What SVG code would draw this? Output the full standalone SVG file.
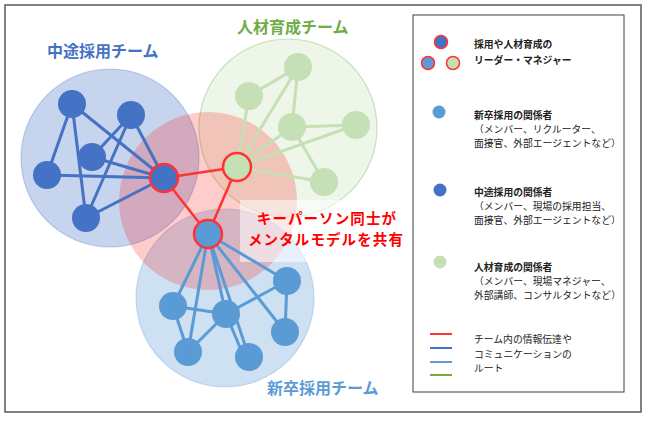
<svg xmlns="http://www.w3.org/2000/svg" width="648" height="421" viewBox="0 0 648 421">
<style>
text{font-family:"Noto Sans CJK JP","Noto Sans",sans-serif;}
.team{font-size:16px;font-weight:bold;}
.lg{font-size:9.8px;fill:#222;}
.b{font-weight:bold;}
.eb{stroke:#4472C4;stroke-width:3;}
.el{stroke:#5B9BD5;stroke-width:3;}
.eg{stroke:#C5E0B4;stroke-width:3;}
.er{stroke:#FF3333;stroke-width:2.5;}
.nb{fill:#4472C4;}
.nl{fill:#5B9BD5;}
.ng{fill:#C5E0B4;}
.lead{stroke:#FF3333;stroke-width:2.5;}
</style>
<rect x="0" y="0" width="648" height="421" fill="#fff"/>
<rect x="5" y="5" width="636" height="407" fill="#fff" stroke="#595959" stroke-width="1.5"/>

<!-- team areas -->
<g id="area-green"><circle cx="288" cy="128" r="89" fill="#C5E0B4" fill-opacity="0.3" stroke="#C5E0B4" stroke-width="1.2"/></g>
<g id="area-blue"><circle cx="110" cy="158" r="89" fill="#4472C4" fill-opacity="0.3" stroke="#4472C4" stroke-opacity="0.3" stroke-width="1.2"/></g>
<g id="area-lightblue"><circle cx="225" cy="298" r="89" fill="#5B9BD5" fill-opacity="0.3" stroke="#5B9BD5" stroke-opacity="0.3" stroke-width="1.2"/></g>
<g id="area-key"><circle cx="208" cy="201" r="89" fill="#FF0000" fill-opacity="0.2"/></g>
<rect x="240" y="200" width="160" height="62" fill="#fff" fill-opacity="0.55"/>

<!-- connectors -->
<g id="connectors" fill="none">
  <line class="eb" x1="72" y1="104" x2="47" y2="175"/>
  <line class="eb" x1="72" y1="104" x2="86" y2="218"/>
  <line class="eb" x1="72" y1="104" x2="164" y2="178"/>
  <line class="eb" x1="131" y1="115" x2="92" y2="157"/>
  <line class="eb" x1="131" y1="115" x2="86" y2="218"/>
  <line class="eb" x1="131" y1="115" x2="164" y2="178"/>
  <line class="eb" x1="92" y1="157" x2="164" y2="178"/>
  <line class="eb" x1="47" y1="175" x2="164" y2="178"/>
  <line class="eb" x1="86" y1="218" x2="164" y2="178"/>

  <line class="eg" x1="249" y1="96" x2="298" y2="67"/>
  <line class="eg" x1="298" y1="67" x2="292" y2="127"/>
  <line class="eg" x1="298" y1="67" x2="237" y2="167"/>
  <line class="eg" x1="249" y1="96" x2="237" y2="167"/>
  <line class="eg" x1="292" y1="127" x2="356" y2="125"/>
  <line class="eg" x1="292" y1="127" x2="324" y2="182"/>
  <line class="eg" x1="292" y1="127" x2="237" y2="167"/>
  <line class="eg" x1="356" y1="125" x2="237" y2="167"/>
  <line class="eg" x1="324" y1="182" x2="237" y2="167"/>

  <line class="el" x1="208" y1="234" x2="287" y2="281"/>
  <line class="el" x1="208" y1="234" x2="173" y2="306"/>
  <line class="el" x1="208" y1="234" x2="188" y2="352"/>
  <line class="el" x1="208" y1="234" x2="226" y2="314"/>
  <line class="el" x1="208" y1="234" x2="249" y2="357"/>
  <line class="el" x1="208" y1="234" x2="285" y2="332"/>
  <line class="el" x1="173" y1="306" x2="226" y2="314"/>
  <line class="el" x1="173" y1="306" x2="188" y2="352"/>
  <line class="el" x1="226" y1="314" x2="287" y2="281"/>
  <line class="el" x1="226" y1="314" x2="188" y2="352"/>
  <line class="el" x1="226" y1="314" x2="244" y2="357"/>
  <line class="el" x1="287" y1="281" x2="285" y2="332"/>

  <line class="er" x1="164" y1="178" x2="237" y2="167"/>
  <line class="er" x1="164" y1="178" x2="208" y2="234"/>
  <line class="er" x1="237" y1="167" x2="208" y2="234"/>
</g>

<!-- mid-career team nodes -->
<g id="mc-1"><circle class="nb" cx="72" cy="104" r="14"/></g>
<g id="mc-2"><circle class="nb" cx="131" cy="115" r="14"/></g>
<g id="mc-3"><circle class="nb" cx="92" cy="157" r="14"/></g>
<g id="mc-4"><circle class="nb" cx="47" cy="175" r="14"/></g>
<g id="mc-5"><circle class="nb" cx="86" cy="218" r="14"/></g>
<g id="mc-leader"><circle class="nb lead" cx="164" cy="178" r="14"/></g>

<!-- development team nodes -->
<g id="dev-1"><circle class="ng" cx="298" cy="67" r="14"/></g>
<g id="dev-2"><circle class="ng" cx="249" cy="96" r="14"/></g>
<g id="dev-3"><circle class="ng" cx="292" cy="127" r="14"/></g>
<g id="dev-4"><circle class="ng" cx="356" cy="125" r="14"/></g>
<g id="dev-5"><circle class="ng" cx="324" cy="182" r="14"/></g>
<g id="dev-leader"><circle class="ng lead" cx="237" cy="167" r="14"/></g>

<!-- new graduate team nodes -->
<g id="ng-leader"><circle class="nl lead" cx="208" cy="234" r="14"/></g>
<g id="ng-1"><circle class="nl" cx="287" cy="281" r="14"/></g>
<g id="ng-2"><circle class="nl" cx="173" cy="306" r="14"/></g>
<g id="ng-3"><circle class="nl" cx="226" cy="314" r="14"/></g>
<g id="ng-4"><circle class="nl" cx="285" cy="332" r="14"/></g>
<g id="ng-5"><circle class="nl" cx="188" cy="352" r="14"/></g>
<g id="ng-6"><circle class="nl" cx="249" cy="357" r="14"/></g>

<!-- labels -->
<g id="labels">
  <text class="team" x="47" y="57" fill="#4472C4">中途採用チーム</text>
  <text class="team" x="237" y="33" fill="#70AD47">人材育成チーム</text>
  <text class="team" x="267" y="394" fill="#5B9BD5">新卒採用チーム</text>
  <text text-anchor="middle" font-size="14.5" font-weight="bold" letter-spacing="1.1" fill="#FF0000"><tspan x="327" y="224">キーパーソン同士が</tspan><tspan x="326" y="245">メンタルモデルを共有</tspan></text>
</g>

<!-- legend -->
<g id="legend">
  <rect x="413" y="15" width="211" height="377" fill="#fff" stroke="#404040" stroke-width="1"/>
  <circle cx="441" cy="42" r="6.5" fill="#4472C4" stroke="#FF3333" stroke-width="1.5"/>
  <circle cx="428" cy="63" r="6.5" fill="#5B9BD5" stroke="#FF3333" stroke-width="1.5"/>
  <circle cx="453" cy="63" r="6.5" fill="#C5E0B4" stroke="#FF3333" stroke-width="1.5"/>
  <text class="lg b"><tspan x="474" y="48">採用や人材育成の</tspan><tspan x="474" y="64">リーダー・マネジャー</tspan></text>

  <circle cx="439" cy="112" r="6.5" fill="#5B9BD5"/>
  <text class="lg"><tspan class="b" x="474" y="119">新卒採用の関係者</tspan><tspan x="474" y="133">（メンバー、リクルーター、</tspan><tspan x="474" y="147">面接官、外部エージェントなど）</tspan></text>

  <circle cx="440" cy="190" r="6.5" fill="#4472C4"/>
  <text class="lg"><tspan class="b" x="474" y="196">中途採用の関係者</tspan><tspan x="474" y="210">（メンバー、現場の採用担当、</tspan><tspan x="474" y="224">面接官、外部エージェントなど）</tspan></text>

  <circle cx="440" cy="262" r="6.5" fill="#C5E0B4"/>
  <text class="lg"><tspan class="b" x="474" y="271">人材育成の関係者</tspan><tspan x="474" y="285">（メンバー、現場マネジャー、</tspan><tspan x="474" y="299">外部講師、コンサルタントなど）</tspan></text>

  <line x1="430" y1="334" x2="452" y2="334" stroke="#FF3333" stroke-width="2"/>
  <line x1="430" y1="348" x2="452" y2="348" stroke="#4472C4" stroke-width="2"/>
  <line x1="430" y1="362" x2="452" y2="362" stroke="#5B9BD5" stroke-width="2"/>
  <line x1="430" y1="375" x2="452" y2="375" stroke="#70AD47" stroke-width="2"/>
  <text class="lg"><tspan x="474" y="343">チーム内の情報伝達や</tspan><tspan x="474" y="358">コミュニケーションの</tspan><tspan x="474" y="372">ルート</tspan></text>
</g>
</svg>
